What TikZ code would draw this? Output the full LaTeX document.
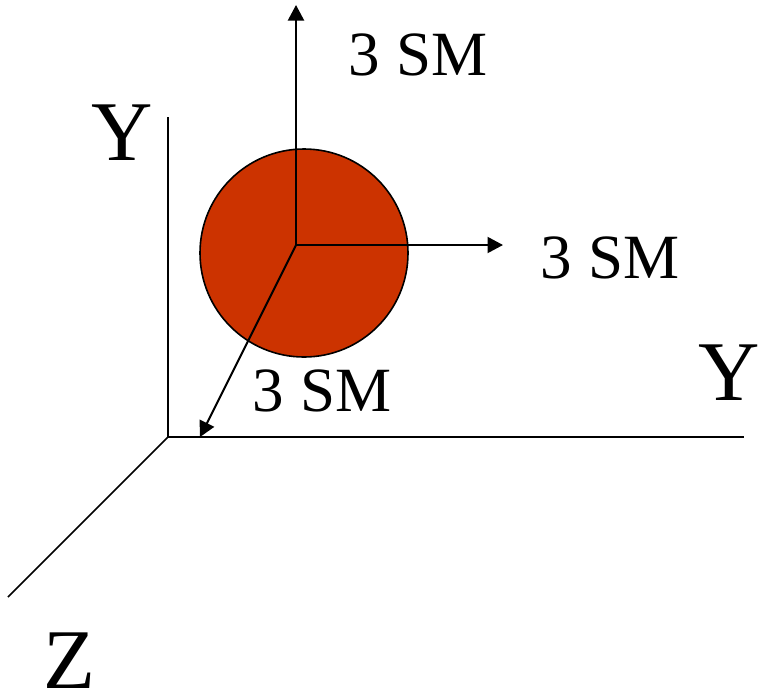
\documentclass[tikz,border=0pt]{standalone}
\usepackage{fontspec}
\usepackage{xcolor}
\usetikzlibrary{arrows.meta}
\setmainfont{Liberation Serif}
\definecolor{ballred}{HTML}{CC3300}
\tikzset{
    axisline/.style={black, line width=1.6pt},
    rangearrow/.style={-{Triangle[length=15.5pt,width=16pt]}, black, line width=2pt},
    biglabel/.style={inner sep=0pt, font=\fontsize{85}{85}\selectfont},
    rangelabel/.style={inner sep=0pt, font=\fontsize{63}{63}\selectfont}
}
\begin{document}
\begin{tikzpicture}[x=1pt,y=-1pt]
    \useasboundingbox (0,0) rectangle (760,697);

    % Ball
    \node[circle, draw=black, fill=ballred, line width=1.6pt, minimum size=208pt, inner sep=0pt] (ball) at (304,253) {};

    % Axes
    \coordinate (origin) at (168,437);
    \coordinate (yend) at (168,117);
    \coordinate (xend) at (744,437);
    \coordinate (zend) at (8,597);
    \draw[axisline] (yend) -- (origin) -- (xend);
    \draw[axisline] (origin) -- (zend);

    % Arrows from centre
    \coordinate (centre) at (296,245);
    \coordinate (uptip) at (296,5);
    \coordinate (righttip) at (503,245);
    \coordinate (downtip) at (200,437);
    \draw[rangearrow] (centre) -- (uptip);
    \draw[rangearrow] (centre) -- (righttip);
    \draw[rangearrow] (centre) -- (downtip);

    % Labels
    \node[biglabel] (ylabel) at (122,132.5) {Y};
    \node[biglabel] (xlabel) at (729.5,372.5) {Y};
    \node[biglabel] (zlabel) at (69,660.5) {Z};
    \node[rangelabel] (uplabel) at (418,55) {3 SM};
    \node[rangelabel] (rightlabel) at (610,258) {3 SM};
    \node[rangelabel] (downlabel) at (322,391) {3 SM};
\end{tikzpicture}
\end{document}
